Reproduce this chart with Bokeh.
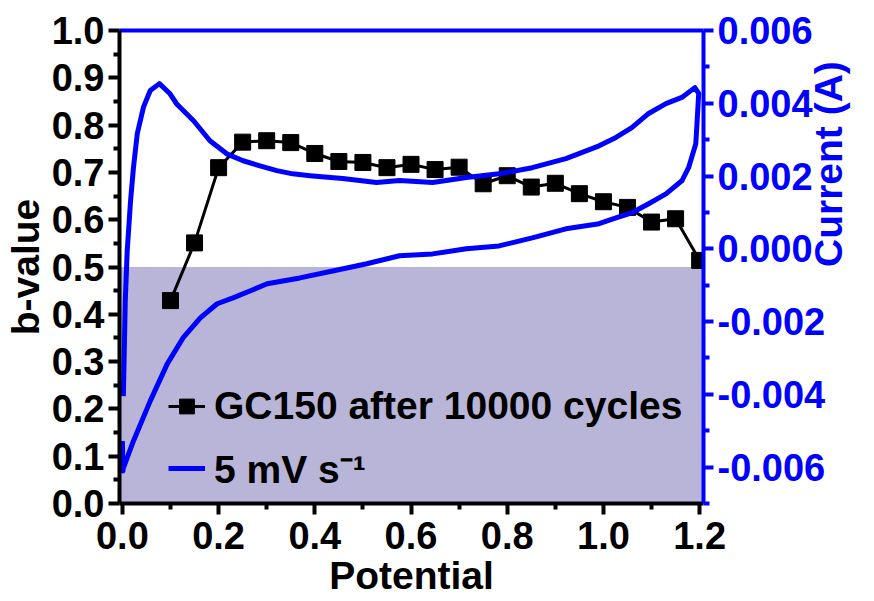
import math
from bokeh.plotting import figure
from bokeh.models import (Range1d, LinearAxis, FixedTicker, PrintfTickFormatter,
                          BoxAnnotation, Legend, LegendItem)
from bokeh.embed import file_html
from bokeh.resources import INLINE

# b-value data
b_potential = [0.10, 0.15, 0.20, 0.25, 0.30, 0.35, 0.40, 0.45, 0.50, 0.55, 0.60,
               0.65, 0.70, 0.75, 0.80, 0.85, 0.90, 0.95, 1.00, 1.05, 1.10, 1.15, 1.20]
b_value = [0.429, 0.551, 0.710, 0.764, 0.767, 0.763, 0.740, 0.723, 0.721, 0.710, 0.717,
           0.706, 0.711, 0.676, 0.693, 0.669, 0.677, 0.655, 0.638, 0.626, 0.595, 0.602, 0.514]

# CV loop at 5 mV/s
cv_potential = [0.000, 0.001, 0.002, 0.023, 0.058, 0.093, 0.126, 0.162, 0.197, 0.230,
                0.265, 0.301, 0.369, 0.437, 0.508, 0.576, 0.645, 0.715, 0.783, 0.852,
                0.922, 0.991, 1.026, 1.059, 1.094, 1.130, 1.163, 1.177, 1.192, 1.196,
                1.198, 1.190, 1.163, 1.130, 1.094, 1.059, 1.026, 0.991, 0.922, 0.852,
                0.783, 0.715, 0.645, 0.576, 0.528, 0.458, 0.390, 0.354, 0.321, 0.286,
                0.251, 0.217, 0.182, 0.148, 0.113, 0.099, 0.077, 0.058, 0.044, 0.031,
                0.023, 0.017, 0.010, 0.006, 0.002]
cv_current = [-0.00528, -0.00611, -0.00603, -0.00528, -0.00418, -0.00317, -0.00245, -0.00190,
              -0.00151, -0.00135, -0.00116, -0.00096, -0.00080, -0.00061, -0.00041, -0.00019,
              -0.00014, 0.00000, 0.00008, 0.00030, 0.00055, 0.00069, 0.00085, 0.00099,
              0.00124, 0.00151, 0.00187, 0.00223, 0.00289, 0.00380, 0.00427, 0.00443,
              0.00416, 0.00399, 0.00372, 0.00333, 0.00306, 0.00283, 0.00248, 0.00223,
              0.00206, 0.00196, 0.00182, 0.00188, 0.00182, 0.00193, 0.00201, 0.00206,
              0.00215, 0.00228, 0.00242, 0.00261, 0.00297, 0.00352, 0.00398, 0.00426,
              0.00454, 0.00435, 0.00390, 0.00317, 0.00223, 0.00132, -0.00006, -0.00143,
              -0.00405]

b_threshold = 0.5
x_ticks = [0.0, 0.2, 0.4, 0.6, 0.8, 1.0, 1.2]
x_minor = [0.1, 0.3, 0.5, 0.7, 0.9, 1.1]
y_ticks = [0.0, 0.1, 0.2, 0.3, 0.4, 0.5, 0.6, 0.7, 0.8, 0.9, 1.0]
y_minor = [0.05, 0.15, 0.25, 0.35, 0.45, 0.55, 0.65, 0.75, 0.85, 0.95]
r_ticks = [-0.006, -0.004, -0.002, 0.000, 0.002, 0.004, 0.006]
r_minor = [-0.007, -0.005, -0.003, -0.001, 0.001, 0.003, 0.005]

FONT = "Liberation Sans"
BLUE = "#0000ff"

p = figure(width=874, height=601, output_backend="svg", toolbar_location=None,
           x_range=Range1d(-0.006, 1.208), y_range=Range1d(0, 1),
           min_border_left=119, min_border_right=169, min_border_top=30, min_border_bottom=98)
p.xgrid.visible = False
p.ygrid.visible = False
p.outline_line_color = None
p.background_fill_color = "white"

p.add_layout(BoxAnnotation(top=b_threshold, fill_color="#b8b5d9", fill_alpha=1.0,
                           line_alpha=0, level="underlay"))

p.extra_y_ranges = {"cur": Range1d(-0.007, 0.006)}

def style_axis(ax, color, ticks, minor, fmt):
    ax.ticker = FixedTicker(ticks=ticks, minor_ticks=minor)
    ax.formatter = PrintfTickFormatter(format=fmt)
    ax.axis_line_color = color
    ax.axis_line_width = 4
    ax.major_tick_line_color = color
    ax.major_tick_line_width = 4
    ax.minor_tick_line_color = color
    ax.minor_tick_line_width = 4
    ax.major_tick_out = 11
    ax.major_tick_in = 0
    ax.minor_tick_out = 6
    ax.minor_tick_in = 0
    ax.major_label_text_font = FONT
    ax.major_label_text_font_style = "bold"
    ax.major_label_text_font_size = "38px"
    ax.major_label_text_color = color
    ax.axis_label_text_font = FONT
    ax.axis_label_text_font_style = "bold"
    ax.axis_label_text_font_size = "39px"
    ax.axis_label_text_color = color

style_axis(p.xaxis[0], "black", x_ticks, x_minor, "%.1f")
p.xaxis[0].axis_label = "Potential"
p.xaxis[0].major_label_standoff = 7
p.xaxis[0].axis_label_standoff = 2
style_axis(p.yaxis[0], "black", y_ticks, y_minor, "%.1f")
p.yaxis[0].axis_label = "b-value"
p.yaxis[0].major_label_standoff = 4
p.yaxis[0].axis_label_standoff = 2

raxis = LinearAxis(y_range_name="cur")
style_axis(raxis, BLUE, r_ticks, r_minor, "%.3f")
raxis.axis_label = "Current (A)"
raxis.major_label_standoff = 4
raxis.axis_label_standoff = 0
raxis.major_tick_out = 10
if hasattr(raxis, "axis_label_orientation"):
    raxis.axis_label_orientation = math.pi / 2
p.add_layout(raxis, "right")

top = LinearAxis(ticker=FixedTicker(ticks=[]), axis_line_color=BLUE, axis_line_width=4,
                 major_tick_out=0, minor_tick_out=0, major_label_text_font_size="0px")
p.add_layout(top, "above")

bline = p.line(b_potential, b_value, line_color="black", line_width=3)
bsq = p.scatter(b_potential, b_value, marker="square", size=16, fill_color="black",
                line_color="black")
cv = p.line(cv_potential, cv_current, y_range_name="cur", line_color=BLUE, line_width=5,
            line_join="round")

legend = Legend(items=[LegendItem(label="GC150 after 10000 cycles", renderers=[bline, bsq]),
                       LegendItem(label="5 mV s\u207b\u00b9", renderers=[cv])],
                location=(49, 9), padding=0, margin=0, spacing=13,
                glyph_width=37, glyph_height=44, label_standoff=9,
                label_text_font=FONT, label_text_font_style="bold",
                label_text_font_size="39px", label_text_color="black",
                background_fill_alpha=0, border_line_alpha=0)
p.add_layout(legend)

open("out.html", "w").write(file_html(p, INLINE))
